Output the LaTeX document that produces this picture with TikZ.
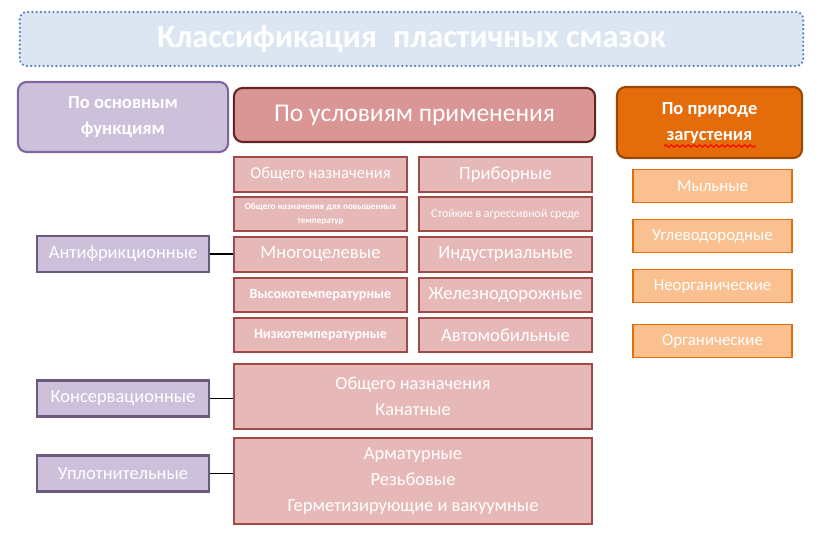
\documentclass[tikz,border=0pt]{standalone}
\usepackage{fontspec}
\setmainfont{Carlito}
\usepackage{tikz}
\usetikzlibrary{decorations.pathmorphing}

\definecolor{titlefill}{HTML}{DCE6F2}
\definecolor{titleline}{HTML}{4F81BD}
\definecolor{funcfill}{HTML}{CCC0DA}
\definecolor{funcline}{HTML}{8064A2}
\definecolor{funcdark}{HTML}{6B5A7E}
\definecolor{condfill}{HTML}{D99694}
\definecolor{condline}{HTML}{632523}
\definecolor{itemfill}{HTML}{E6B9B8}
\definecolor{itemline}{HTML}{A04A48}
\definecolor{thickfill}{HTML}{E46C0A}
\definecolor{thickline}{HTML}{984807}
\definecolor{soapfill}{HTML}{FAC090}

\newcommand{\fsz}[1]{\fontsize{#1}{1.3\dimexpr #1pt\relax}\selectfont}

\begin{document}
\begin{tikzpicture}[x=0.01cm, y=-0.01cm,
  every node/.style={text=white, align=center, inner sep=0pt},
  hdr/.style={draw, line width=0.6pt, rounded corners=2.5pt},
  item/.style={draw=itemline, fill=itemfill, line width=0.5pt, minimum width=1.73cm, font=\fsz{5.3}},
  func/.style={draw=funcdark, fill=funcfill, line width=0.6pt, minimum width=1.72cm, minimum height=0.36cm, font=\fsz{5.25}},
  soap/.style={draw=thickfill, fill=soapfill, line width=0.5pt, minimum width=1.59cm, minimum height=0.33cm, font=\fsz{4.8}},
  link/.style={draw=black, line width=0.45pt}]
  \useasboundingbox (0,0) rectangle (825,534);

  % Title
  \node (title) at (411.5,39) [draw=titleline, fill=titlefill, line width=0.7pt,
    dash pattern=on 0pt off 1.2pt, line cap=round, rounded corners=2pt,
    minimum width=7.83cm, minimum height=0.54cm, font=\fsz{9.2}\bfseries]
    {Классификация\enspace пластичных смазок};

  % Headers
  \node (fhead) at (123,117) [hdr, draw=funcline, fill=funcfill, minimum width=2.10cm,
    minimum height=0.70cm, font=\fontsize{5.3}{7.2}\selectfont\bfseries] {По основным\\функциям};
  \node (chead) at (414.5,115) [hdr, draw=condline, fill=condfill, minimum width=3.61cm,
    minimum height=0.54cm, font=\fsz{7.25}] {По условиям применения};
  \node (thead) at (709.5,122.5) [hdr, draw=thickline, fill=thickfill, minimum width=1.85cm,
    minimum height=0.71cm, font=\fontsize{5.25}{7.4}\selectfont\bfseries] {По природе\\загустения};
  \draw[red, line width=0.3pt, decorate, decoration={snake, amplitude=0.35pt, segment length=1.6pt}]
    (664,146) -- (756,146);

  % Conditions of use
  \node (gen) at (320.5,174.5) [item, minimum height=0.35cm, font=\fsz{4.7}] {Общего назначения};
  \node (hot) at (320.5,214) [item, minimum height=0.34cm, font=\fontsize{2.6}{3.8}\selectfont\bfseries]
    {Общего назначения для повышенных\\температур};
  \node (multi) at (320.5,254.5) [item, minimum height=0.35cm] {Многоцелевые};
  \node (high) at (320.5,295) [item, minimum height=0.34cm, font=\fsz{4.0}\bfseries] {Высокотемпературные};
  \node (low) at (320.5,335) [item, minimum height=0.34cm, font=\fsz{4.0}\bfseries] {Низкотемпературные};
  \node (inst) at (505.5,174.5) [item, minimum height=0.35cm] {Приборные};
  \node (aggr) at (505.5,214) [item, minimum height=0.34cm, font=\fsz{3.4}] {Стойкие в агрессивной среде};
  \node (ind) at (505.5,254.5) [item, minimum height=0.35cm] {Индустриальные};
  \node (rail) at (505.5,295) [item, minimum height=0.34cm] {Железнодорожные};
  \node (auto) at (505.5,335) [item, minimum height=0.34cm] {Автомобильные};
  \node (rope) at (413,396.5) [item, minimum width=3.58cm, minimum height=0.65cm,
    font=\fontsize{5.2}{7.4}\selectfont] {Общего назначения\\Канатные};
  \node (seal) at (413,481) [item, minimum width=3.58cm, minimum height=0.86cm,
    font=\fontsize{5.25}{7.5}\selectfont] {Арматурные\\Резьбовые\\Герметизирующие и вакуумные};

  % Main functions
  \node (anti) at (123,254) [func] {Антифрикционные};
  \node (cons) at (123,398.5) [func] {Консервационные};
  \node (tight) at (123,473.5) [func] {Уплотнительные};
  \draw[link] (anti.east) -- (anti.east -| multi.west);
  \draw[link] (cons.east) -- (cons.east -| rope.west);
  \draw[link] (tight.east) -- (tight.east -| seal.west);

  % Thickener
  \node (soapy) at (712.5,186) [soap] {Мыльные};
  \node (hydro) at (712.5,236) [soap] {Углеводородные};
  \node (inorg) at (712.5,286) [soap] {Неорганические};
  \node (org) at (712.5,341) [soap] {Органические};
\end{tikzpicture}
\end{document}
